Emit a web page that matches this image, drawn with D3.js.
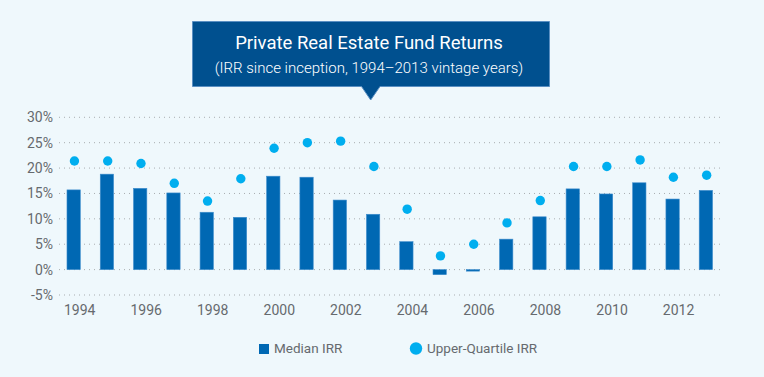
<!DOCTYPE html>
<html>
<head>
<meta charset="utf-8">
<script src="https://cdn.jsdelivr.net/npm/d3@7"></script>
<style>
  body { margin: 0; background: #eff8fc; }
  svg { display: block; font-family: Roboto, "Liberation Sans", sans-serif; }
</style>
</head>
<body>
<svg id="chart"></svg>
<script>
"use strict";

// vintage years and returns in %
let years = [1994, 1995, 1996, 1997, 1998, 1999, 2000, 2001, 2002, 2003,
             2004, 2005, 2006, 2007, 2008, 2009, 2010, 2011, 2012, 2013];
let medianIRR = [15.7, 18.8, 16.0, 15.1, 11.3, 10.3, 18.4, 18.2, 13.7, 10.9,
                 5.5, -1.0, -0.3, 6.0, 10.4, 15.9, 14.9, 17.1, 13.9, 15.6];
let upperIRR = [21.4, 21.4, 20.9, 17.0, 13.5, 17.9, 23.9, 25.0, 25.3, 20.3,
                11.9, 2.7, 5.0, 9.2, 13.6, 20.3, 20.3, 21.6, 18.2, 18.6];
let yTicks = [-5, 0, 5, 10, 15, 20, 25, 30];
let xTicks = [1994, 1996, 1998, 2000, 2002, 2004, 2006, 2008, 2010, 2012];

var width = 764,
    height = 377;

var svg = d3.select('#chart')
  .attr('width', width)
  .attr('height', height);

svg.append('rect')
  .attr('width', width)
  .attr('height', height)
  .attr('fill', '#eff8fc');

var x = d3.scaleBand()
  .domain(years)
  .range([57, 722.5])
  .paddingInner(0.6)
  .paddingOuter(0.3);

var y = d3.scaleLinear()
  .domain([-5, 30])
  .range([295, 117.3]);

// dotted grid lines
svg.append('g')
  .selectAll('line').data(yTicks)
  .enter().append('line')
    .attr('x1', 59)
    .attr('x2', 723)
    .attr('y1', d => y(d))
    .attr('y2', d => y(d))
    .attr('stroke', '#a9adb0')
    .attr('stroke-width', 1)
    .attr('stroke-dasharray', '1,4');

// y axis labels
var yAxis = svg.append('g')
  .attr('transform', 'translate(57,0)')
  .call(d3.axisLeft(y).tickValues(yTicks).tickSize(0).tickPadding(4)
        .tickFormat(d => d + '%'));
yAxis.select('.domain').remove();
yAxis.selectAll('text')
  .attr('fill', '#666a6e')
  .style('font-size', '14px')
  .style('font-family', 'Roboto, sans-serif');

// x axis labels (shifted a little to the right like the original)
var xAxis = svg.append('g')
  .attr('transform', 'translate(6,299)')
  .call(d3.axisBottom(x).tickValues(xTicks).tickSize(0).tickPadding(6));
xAxis.select('.domain').remove();
xAxis.selectAll('text')
  .attr('fill', '#666a6e')
  .style('font-size', '14px')
  .style('font-family', 'Roboto, sans-serif');

// median bars
svg.append('g')
  .selectAll('rect').data(medianIRR)
  .enter().append('rect')
    .attr('x', (d, i) => x(years[i]))
    .attr('width', x.bandwidth())
    .attr('y', d => y(Math.max(0, d)))
    .attr('height', d => Math.abs(y(d) - y(0)))
    .attr('fill', '#0068b3')
    .attr('stroke', '#3d8ccc')
    .attr('stroke-width', 0.6);

// upper quartile dots
svg.append('g')
  .selectAll('circle').data(upperIRR)
  .enter().append('circle')
    .attr('cx', (d, i) => x(years[i]) + x.bandwidth() / 2 + 0.8)
    .attr('cy', d => y(d))
    .attr('r', 4.7)
    .attr('fill', '#00aeef');

// title callout
var title = svg.append('g');
title.append('path')
  .attr('d', 'M192.5,21.5 H549.5 V86.5 H380 L370.7,100 L361.5,86.5 H192.5 Z')
  .attr('fill', '#00508f')
  .attr('stroke', '#5a8fc2')
  .attr('stroke-width', 1);
title.append('text')
  .attr('x', 369)
  .attr('y', 49)
  .attr('text-anchor', 'middle')
  .attr('fill', '#ffffff')
  .style('font-size', '18.5px')
  .style('font-weight', 400)
  .text('Private Real Estate Fund Returns');
title.append('text')
  .attr('x', 369)
  .attr('y', 73)
  .attr('text-anchor', 'middle')
  .attr('fill', '#ffffff')
  .style('font-size', '15px')
  .style('font-weight', 300)
  .text('(IRR since inception, 1994\u20132013 vintage years)');

// legend
var legend = svg.append('g');
legend.append('rect')
  .attr('x', 259).attr('y', 344)
  .attr('width', 10).attr('height', 10)
  .attr('fill', '#0068b3');
legend.append('text')
  .attr('x', 274).attr('y', 353)
  .attr('fill', '#666a6e')
  .style('font-size', '13.5px')
  .text('Median IRR');
legend.append('circle')
  .attr('cx', 416).attr('cy', 348.5)
  .attr('r', 6.2)
  .attr('fill', '#00aeef');
legend.append('text')
  .attr('x', 427).attr('y', 353)
  .attr('fill', '#666a6e')
  .style('font-size', '13.5px')
  .text('Upper-Quartile IRR');
</script>
</body>
</html>
